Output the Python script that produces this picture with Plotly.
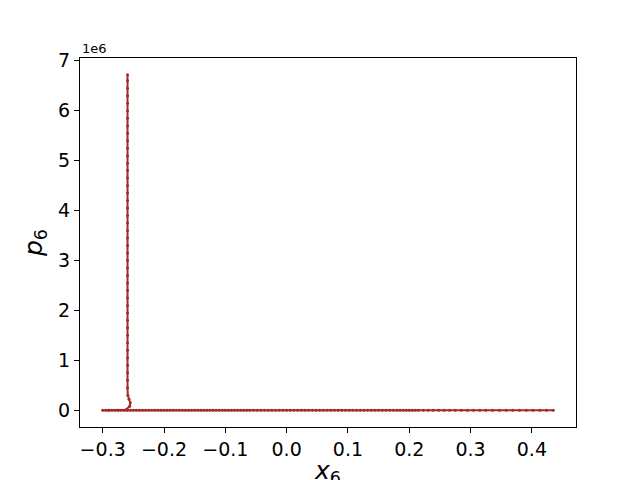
import plotly.graph_objects as go

# trajectory: horizontal sweep at p ~ 0, then the climb at x ~ -0.26
x_sweep = [0.435, 0.424, 0.413, 0.402, 0.391, 0.380, 0.369, 0.358, 0.347, 0.336,
           0.325, 0.315, 0.305, 0.295, 0.285, 0.275, 0.266, 0.257, 0.248, 0.239,
           0.231, 0.223, 0.215, 0.210, 0.205, 0.200, 0.195, 0.190, 0.185, 0.180,
           0.174, 0.168, 0.162, 0.156, 0.150, 0.144, 0.138, 0.132, 0.126, 0.120,
           0.114, 0.108, 0.102, 0.096, 0.090, 0.084, 0.078, 0.072, 0.066, 0.060,
           0.054, 0.048, 0.042, 0.036, 0.030, 0.024, 0.018, 0.012, 0.006, 0.000,
           -0.006, -0.012, -0.018, -0.024, -0.030, -0.036, -0.042, -0.048, -0.054, -0.060,
           -0.065, -0.070, -0.075, -0.080, -0.085, -0.090, -0.095, -0.100, -0.105, -0.110,
           -0.115, -0.120, -0.125, -0.130, -0.135, -0.140, -0.145, -0.150, -0.155, -0.160,
           -0.165, -0.170, -0.175, -0.180, -0.185, -0.190, -0.195, -0.200, -0.205, -0.210,
           -0.215, -0.220, -0.225, -0.230, -0.235, -0.240, -0.245, -0.250, -0.255, -0.260,
           -0.265, -0.270, -0.275, -0.280, -0.285, -0.290, -0.295, -0.300]
p_sweep = [0.0] * len(x_sweep)

x_curl = [-0.290, -0.275, -0.262, -0.256, -0.255, -0.257, -0.259]
p_curl = [0.0, 0.0, 0.01, 0.08, 0.15, 0.22, 0.30]

p_climb = [0.45, 0.60, 0.75, 0.90, 1.05, 1.20, 1.35, 1.50, 1.65, 1.80,
           1.95, 2.10, 2.25, 2.40, 2.55, 2.70, 2.85, 3.00, 3.15, 3.30,
           3.45, 3.60, 3.75, 3.90, 4.05, 4.20, 4.35, 4.50, 4.65, 4.80,
           4.95, 5.10, 5.25, 5.40, 5.55, 5.70, 5.85, 6.00, 6.15, 6.30,
           6.45, 6.60, 6.72]
x_climb = [-0.2595] * len(p_climb)

x6 = x_sweep + x_curl + x_climb
p6 = [v * 1e6 for v in p_sweep + p_curl + p_climb]

y_ticks = [0, 1, 2, 3, 4, 5, 6, 7]
x_ticks = [-0.3, -0.2, -0.1, 0.0, 0.1, 0.2, 0.3, 0.4]

BROWN = "#a52a2a"
FONT = "DejaVu Sans"

fig = go.Figure()
fig.add_trace(go.Scatter(
    x=x6, y=p6, mode="lines+markers",
    line=dict(color=BROWN, width=2),
    marker=dict(color=BROWN, size=3),
    showlegend=False,
))

axis_style = dict(
    showgrid=False, zeroline=False, showline=True, mirror=True, automargin=False,
    linecolor="black", linewidth=1, ticks="outside", ticklen=5,
    tickcolor="black", tickfont=dict(family=FONT, size=19, color="black"),
)

fig.update_xaxes(
    range=[-0.337, 0.472], tickvals=x_ticks,
    ticktext=["\u22120.3", "\u22120.2", "\u22120.1", "0.0", "0.1", "0.2", "0.3", "0.4"],
    title=dict(text="<i>x</i><sub>6</sub>", font=dict(family=FONT, size=25, color="black"),
               standoff=2),
    **axis_style,
)
fig.update_yaxes(
    range=[-0.336e6, 7.056e6], tickvals=[t * 1e6 for t in y_ticks],
    ticktext=[str(t) for t in y_ticks],
    title=dict(text="<i>p</i><sub>6</sub>", font=dict(family=FONT, size=25, color="black"),
               standoff=8),
    **axis_style,
)

fig.add_annotation(
    text="1e6", xref="paper", yref="paper", x=0, y=1, xanchor="left", yanchor="bottom",
    showarrow=False, font=dict(family=FONT, size=13, color="black"),
)

# the page adds an 8px body margin, so the figure is placed 8px left/up of the target
fig.update_layout(
    width=640, height=480,
    margin=dict(l=72, r=72, t=50, b=61),
    plot_bgcolor="white", paper_bgcolor="white",
)

fig.write_html("out.html")
